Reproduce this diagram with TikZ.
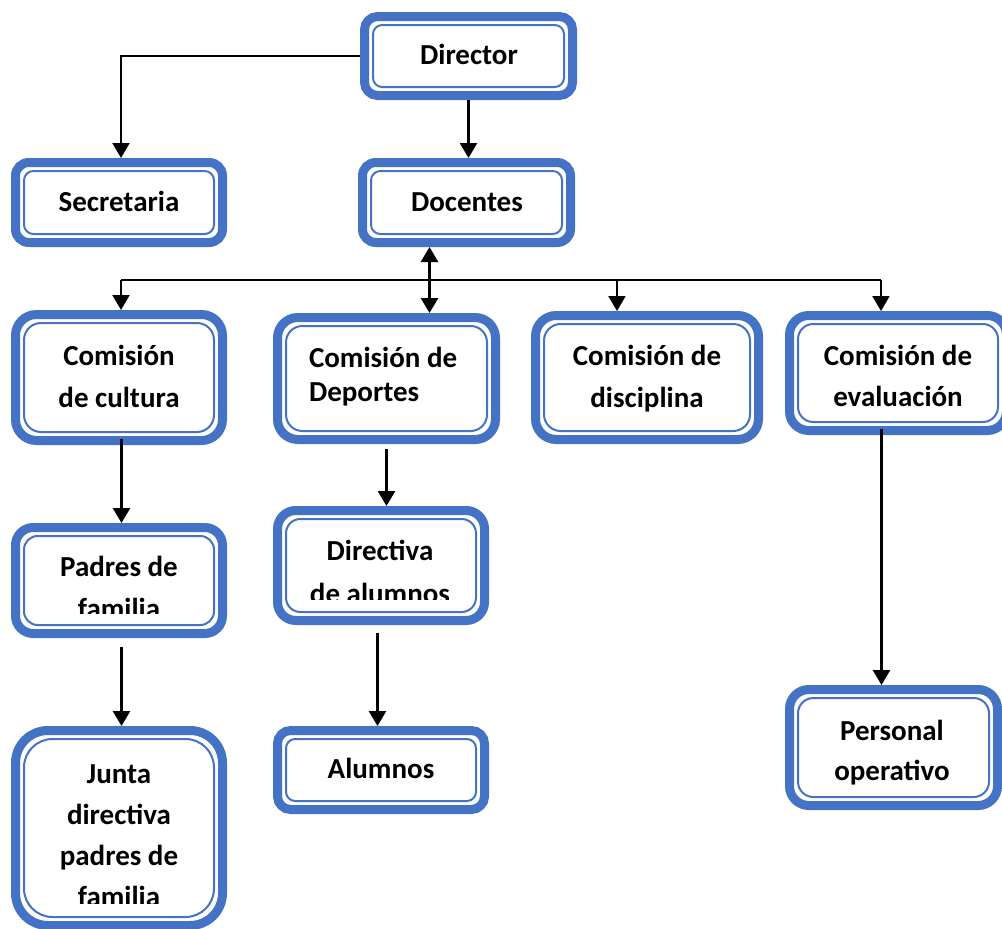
\documentclass[tikz,border=0pt]{standalone}
\usepackage{fontspec}
\setmainfont{Carlito}
\usetikzlibrary{arrows.meta}
\definecolor{boxblue}{HTML}{4472C4}
\tikzset{
  outerbox/.style={draw=boxblue, line width=9pt, fill=white,
    inner sep=0pt, outer sep=4.5pt},
  innerline/.style={draw=boxblue, line width=2pt},
  lbl/.style={inner sep=0pt, outer sep=0pt, text=black},
  conn/.style={draw=black, line width=2.6pt},
  thinconn/.style={draw=black, line width=2pt},
  tip/.tip={Triangle[width=17pt,length=15pt]},
  arr/.style={conn, -tip},
  thinarr/.style={thinconn, -tip},
  darr/.style={conn, tip-tip},
}
\newcommand\orgbox[5]{%
  \pgfmathsetmacro\bw{#4-#2-9}\pgfmathsetmacro\bh{#5-#3-9}%
  \pgfmathsetmacro\rr{min(\bw,\bh)/6}\pgfmathsetmacro\ri{max(\rr-4,9)}%
  \node[outerbox, rounded corners=\rr pt, minimum width=\bw pt, minimum height=\bh pt] (#1) at ({(#2+#4)/2},{(#3+#5)/2}) {};
  \draw[innerline, rounded corners=\ri pt] ([xshift=13pt,yshift=-13pt]#1.north west) rectangle ([xshift=-13pt,yshift=13pt]#1.south east);
}
\newcommand\fnt[1]{\fontsize{29}{#1}\selectfont\bfseries}
\begin{document}
\begin{tikzpicture}[x=1pt,y=-1pt]
\clip (0,0) rectangle (1002,929);
\fill[white] (0,0) rectangle (1002,929);

\coordinate (busL) at (121,280);
\coordinate (busD) at (617,280);
\coordinate (busR) at (881,280);
\coordinate (dbl) at (429.5,280);
\coordinate (colL) at (121.5,280);
\coordinate (colR) at (881.5,280);

% boxes
\orgbox{director}{360}{12}{577}{100}
\orgbox{docentes}{358}{158}{575}{247}
\orgbox{secretaria}{11}{158}{227}{247}
\orgbox{cultura}{11}{310}{227}{445}
\orgbox{deportes}{273}{313}{500}{444}
\orgbox{disciplina}{531}{311}{763}{444}
\orgbox{evaluacion}{785}{311}{1011}{435}
\orgbox{padres}{11}{523}{227}{638}
\orgbox{directiva}{273}{506}{489}{625}
\orgbox{alumnos}{273}{726}{489}{814}
\orgbox{junta}{11}{726}{227}{930}
\orgbox{personal}{785}{685}{1002}{810}

% texts
\node[lbl, anchor=base, font=\fnt{42}] (t-director) at (469,64) {Director};
\node[lbl, anchor=base, font=\fnt{42}] (t-docentes) at (467,211) {Docentes};
\node[lbl, anchor=base, font=\fnt{42}] (t-secretaria) at (119,211) {Secretaria};
\node[lbl, anchor=base, font=\fnt{42}] (t-cultura) at (119,365) {\begin{tabular}[t]{@{}c@{}}Comisión\\de cultura\end{tabular}};
\node[lbl, anchor=base west, font=\fnt{34}] (t-deportes) at (309,367) {\begin{tabular}[t]{@{}l@{}}Comisión de\\Deportes\end{tabular}};
\node[lbl, anchor=base, font=\fnt{42}] (t-disciplina) at (647,365) {\begin{tabular}[t]{@{}c@{}}Comisión de\\disciplina\end{tabular}};
\node[lbl, anchor=base, font=\fnt{41}] (t-evaluacion) at (898,365) {\begin{tabular}[t]{@{}c@{}}Comisión de\\evaluación\end{tabular}};
\begin{scope}
  \clip (11,523) rectangle (227,613);
  \node[lbl, anchor=base, font=\fnt{42}] (t-padres) at (119,576) {\begin{tabular}[t]{@{}c@{}}Padres de\\familia\end{tabular}};
\end{scope}
\begin{scope}
  \clip (273,506) rectangle (489,599);
  \node[lbl, anchor=base, font=\fnt{43}] (t-directiva) at (380,560) {\begin{tabular}[t]{@{}c@{}}Directiva\\de alumnos\end{tabular}};
\end{scope}
\begin{scope}
  \clip (11,727) rectangle (227,903);
  \node[lbl, anchor=base, font=\fnt{41}] (t-junta) at (119,783) {\begin{tabular}[t]{@{}c@{}}Junta\\directiva\\padres de\\familia\end{tabular}};
\end{scope}
\node[lbl, anchor=base, font=\fnt{42}] (t-alumnos) at (381,778) {Alumnos};
\node[lbl, anchor=base, font=\fnt{40}] (t-personal) at (892,740) {\begin{tabular}[t]{@{}c@{}}Personal\\operativo\end{tabular}};

% connectors
\draw[thinarr] (director.west) -| (busL |- secretaria.north);
\draw[arr] (director.south) -- (director.south |- docentes.north);
\draw[thinconn] (busL) -- (busR);
\draw[thinarr] (busL) -- (busL |- cultura.north);
\draw[thinarr] (busD) -- (busD |- disciplina.north);
\draw[thinarr] (busR) -- (busR |- evaluacion.north);
\draw[darr] (dbl |- docentes.south) -- (dbl |- deportes.north);
\draw[arr] ([yshift=6pt]colL |- cultura.south) -- (colL |- padres.north);
\draw[arr] ([yshift=-9pt]colL |- padres.south) -- (colL |- junta.north);
\draw[arr] ([yshift=-5pt]deportes.south) -- (deportes.south |- directiva.north);
\draw[arr] ([xshift=-3.5pt,yshift=-8pt]directiva.south) -- ([xshift=-3.5pt]alumnos.north);
\draw[arr] ([yshift=6pt]colR |- evaluacion.south) -- (colR |- personal.north);
\end{tikzpicture}
\end{document}
